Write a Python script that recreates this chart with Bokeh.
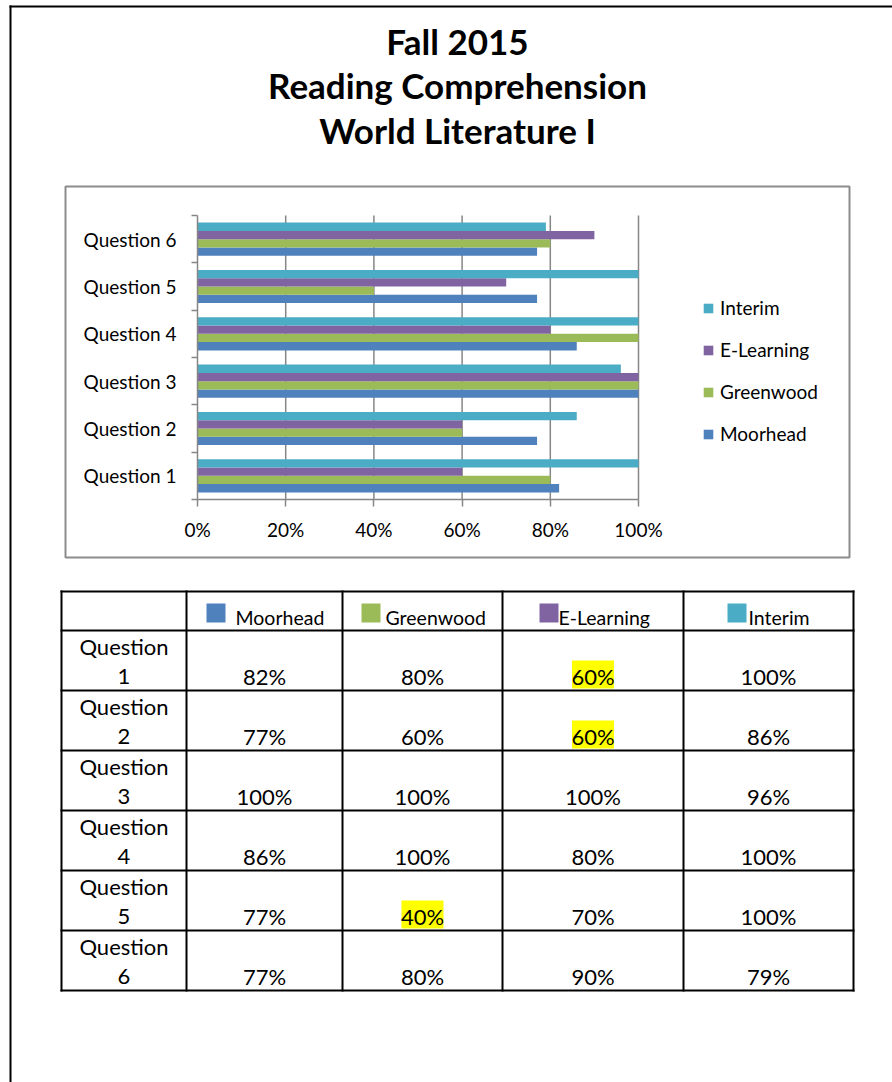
from bokeh.plotting import figure
from bokeh.models import (Range1d, FixedTicker, Legend, LegendItem, ColumnDataSource,
                          LinearAxis)
from bokeh.transform import dodge
from bokeh.embed import file_html
from bokeh.resources import INLINE
from bokeh.core.properties import value

# ---------------- data ----------------
title_lines = ["Fall 2015", "Reading Comprehension", "World Literature I"]
questions = ["Question 1", "Question 2", "Question 3", "Question 4", "Question 5", "Question 6"]
series_names = ["Moorhead", "Greenwood", "E-Learning", "Interim"]
moorhead = [82, 77, 100, 86, 77, 77]
greenwood = [80, 60, 100, 100, 40, 80]
e_learning = [60, 60, 100, 80, 70, 90]
interim = [100, 86, 96, 100, 100, 79]
x_tick_values = [0, 20, 40, 60, 80, 100]
x_tick_labels = ["0%", "20%", "40%", "60%", "80%", "100%"]
highlighted = [("Question 1", "E-Learning"), ("Question 2", "E-Learning"), ("Question 5", "Greenwood")]

# ---------------- style / layout ----------------
series_colors = ["#4F81BD", "#9BBB59", "#8064A2", "#4BACC6"]
FONT = "Lato"
GRID = "#868686"
BOX = "#8c8c8c"
W, H = 892, 1082
PLOT_L, PLOT_R, PLOT_T, PLOT_B = 197, 638, 215, 499

series_values = [moorhead, greenwood, e_learning, interim]
keys = ["moorhead", "greenwood", "e_learning", "interim"]
n_q = len(questions)

# data ranges chosen so that the chart's plot area lands in its box on the page
sx = (PLOT_R - PLOT_L) / 100.0
x0 = -PLOT_L / sx
sy = (PLOT_B - PLOT_T) / n_q
y0 = -(H - PLOT_B) / sy

p = figure(width=W, height=H, x_range=Range1d(x0, x0 + W / sx), y_range=Range1d(y0, y0 + H / sy),
           x_axis_location=None, y_axis_location=None, toolbar_location=None, tools="",
           output_backend="svg", min_border=0, outline_line_color=None,
           background_fill_color="white", border_fill_color="white")
p.grid.visible = False
p.extra_x_ranges = {"px": Range1d(0, W)}
p.extra_y_ranges = {"px": Range1d(H, 0)}
PX = dict(x_range_name="px", y_range_name="px")

# ---------------- page frame + chart box ----------------
p.segment(x0=[9, 10], y0=[6, 5], x1=[W, 10], y1=[6, H], line_color="black", line_width=2, **PX)
p.quad(left=[65], right=[849], top=[186], bottom=[557], fill_color=None,
       line_color=BOX, line_width=2, **PX)

# ---------------- title ----------------
p.text(x=[457] * 3, y=[40, 84, 129], text=title_lines, text_align="center",
       text_baseline="middle", text_font=value(FONT), text_font_style="bold",
       text_font_size=value("35px"), text_color="black", **PX)

# ---------------- chart ----------------
src = ColumnDataSource(dict(pos=[i + 0.5 for i in range(n_q)], q=questions,
                            **{k: v for k, v in zip(keys, series_values)}))

p.segment(x0=x_tick_values[1:], x1=x_tick_values[1:], y0=[0] * 5, y1=[n_q] * 5,
          line_color=GRID, line_width=1.5)

offsets = [-0.2625, -0.0875, 0.0875, 0.2625]
renderers = []
for k, c, off in zip(keys, series_colors, offsets):
    r = p.hbar(y=dodge("pos", off), left=0, right=k, height=0.175, source=src,
               fill_color=c, line_color=None)
    renderers.append(r)

xa = LinearAxis(fixed_location=0, bounds=(0, 100),
                ticker=FixedTicker(ticks=x_tick_values),
                major_label_overrides={v: l for v, l in zip(x_tick_values, x_tick_labels)},
                axis_line_color=GRID, axis_line_width=1.5,
                major_tick_line_color=GRID, major_tick_line_width=1.5,
                major_tick_in=0, major_tick_out=7, minor_tick_line_color=None,
                major_label_standoff=11, major_label_text_font=FONT,
                major_label_text_font_size="19px", major_label_text_color="black")
p.add_layout(xa, "below")

ya = LinearAxis(fixed_location=0, bounds=(0, n_q),
                ticker=FixedTicker(ticks=[i + 0.5 for i in range(n_q)],
                                   minor_ticks=list(range(n_q + 1))),
                major_label_overrides={i + 0.5: q for i, q in enumerate(questions)},
                axis_line_color=GRID, axis_line_width=1.5,
                major_tick_line_color=None, major_tick_in=0, major_tick_out=0,
                minor_tick_line_color=GRID, minor_tick_line_width=1.5,
                minor_tick_in=0, minor_tick_out=6,
                major_label_standoff=15, major_label_text_font=FONT,
                major_label_text_font_size="19px", major_label_text_color="black")
p.add_layout(ya, "left")

legend = Legend(items=[LegendItem(label=n, renderers=[r]) for n, r in
                       reversed(list(zip(series_names, renderers)))],
                location=(702, 637), border_line_color=None, background_fill_alpha=0,
                padding=0, margin=0, spacing=19, glyph_width=12, glyph_height=12,
                label_height=22, label_standoff=6, label_text_font=FONT,
                label_text_font_size="19px", label_text_color="black")
p.add_layout(legend)

# ---------------- table ----------------
col_edges = [61, 186, 342, 502, 683, 853]
row_edges = [591, 630, 690, 750, 810, 870, 930, 990]
header_sq_off = [-58, -61, -53.5, -41]
header_tx_off = [-29, -37, -34.5, -20]
col_centers = [(a + b) / 2 for a, b in zip(col_edges[:-1], col_edges[1:])]

hl_l, hl_r, hl_t, hl_b = [], [], [], []
for qi, q in enumerate(questions):
    for si, s in enumerate(series_names):
        if (q, s) in highlighted:
            cx = col_centers[si + 1]
            top = row_edges[qi + 1]
            hl_l.append(cx - 21); hl_r.append(cx + 21)
            hl_t.append(top + 30); hl_b.append(top + 58)
p.quad(left=hl_l, right=hl_r, top=hl_t, bottom=hl_b, fill_color="#FFFF00", line_color=None, **PX)

p.segment(x0=[col_edges[0]] * len(row_edges), x1=[col_edges[-1]] * len(row_edges),
          y0=row_edges, y1=row_edges, line_color="black", line_width=2, line_cap="square", **PX)
p.segment(x0=col_edges, x1=col_edges, y0=[row_edges[0]] * len(col_edges),
          y1=[row_edges[-1]] * len(col_edges), line_color="black", line_width=2,
          line_cap="square", **PX)

sq_l = [col_centers[i + 1] + header_sq_off[i] for i in range(4)]
p.quad(left=sq_l, right=[v + 19 for v in sq_l], top=[603] * 4, bottom=[622] * 4,
       fill_color=series_colors, line_color=None, **PX)
p.text(x=[col_centers[i + 1] + header_tx_off[i] for i in range(4)], y=[617] * 4,
       text=series_names, text_align="left", text_baseline="middle",
       text_font=value(FONT), text_font_size=value("19.5px"), text_color="black", **PX)

tx, ty, tt = [], [], []
for qi, q in enumerate(questions):
    top = row_edges[qi + 1]
    word, num = q.split(" ")
    tx += [col_centers[0], col_centers[0]]
    ty += [top + 15.5, top + 45.5]
    tt += [word, num]
    for si in range(4):
        tx.append(col_centers[si + 1])
        ty.append(top + 45.5)
        tt.append(f"{series_values[si][qi]}%")
p.text(x=tx, y=ty, text=tt, text_align="center", text_baseline="middle",
       text_font=value(FONT), text_font_size=value("22px"), text_color="black", **PX)

open("out.html", "w").write(file_html(p, INLINE))
